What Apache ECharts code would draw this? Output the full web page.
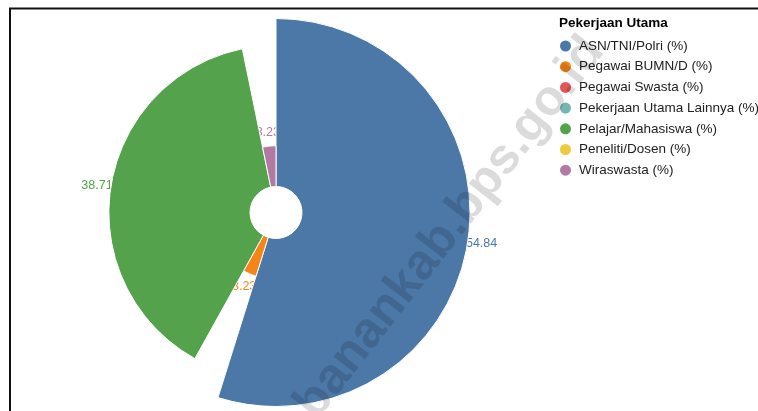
<!DOCTYPE html>
<html>
<head>
<meta charset="utf-8">
<script src="https://cdn.jsdelivr.net/npm/echarts@6/dist/echarts.min.js"></script>
<style>
  html, body { margin: 0; padding: 0; background: #fff; }
  #chart { width: 758px; height: 411px; }
</style>
</head>
<body>
<div id="chart"></div>
<script>
// data
const categories = ["ASN/TNI/Polri (%)", "Pegawai BUMN/D (%)", "Pegawai Swasta (%)", "Pekerjaan Utama Lainnya (%)", "Pelajar/Mahasiswa (%)", "Peneliti/Dosen (%)", "Wiraswasta (%)"];
const values = [54.84, 3.23, 0, 0, 38.71, 0, 3.23];
const colors = ["#4c78a8", "#f58518", "#e45756", "#72b7b2", "#54a24b", "#eeca3b", "#b279a2"];

const chart = echarts.init(document.getElementById("chart"));
const font = "'Liberation Sans', Arial, sans-serif";

const total = values.reduce((a, b) => a + b, 0);
const maxVal = Math.max.apply(null, values);
// radial plot: angle = share, radius = sqrt scale
const cx = 276, cy = 212.5, innerR = 26, outerR = 194;

function makeRender(idx) {
  return function (params, api) {
    let before = 0;
    for (let i = 0; i < idx; i++) before += values[i];
    const v = api.value(1);
    const a0 = before / total * Math.PI * 2 - Math.PI / 2;
    const a1 = (before + v) / total * Math.PI * 2 - Math.PI / 2;
    const r = innerR + (outerR - innerR) * Math.sqrt(v / maxVal);
    const mid = (a0 + a1) / 2;
    const lr = r + 14;
    const children = [{
      type: "text",
      z2: 1,
      style: {
        x: cx + lr * Math.cos(mid),
        y: cy + lr * Math.sin(mid),
        text: String(v),
        fill: colors[idx],
        font: "12.5px " + font,
        align: "center",
        verticalAlign: "middle"
      }
    }];
    if (v > 0) {
      children.push({
        type: "sector",
        z2: 10,
        shape: { cx: cx, cy: cy, r0: innerR, r: r, startAngle: a0, endAngle: a1, clockwise: true },
        style: { fill: colors[idx], stroke: "#fff", lineWidth: 1 }
      });
    }
    return { type: "group", children: children };
  };
}

const series = categories.map(function (name, i) {
  return {
    type: "custom",
    name: name,
    coordinateSystem: "none",
    itemStyle: { color: colors[i] },
    data: [[i, values[i]]],
    renderItem: makeRender(i),
    animation: false
  };
});

const option = {
  backgroundColor: "#fff",
  title: {
    text: "Pekerjaan Utama",
    left: 554,
    top: 11,
    textStyle: { fontSize: 13.5, fontWeight: "bold", color: "#000", fontFamily: font }
  },
  legend: {
    data: categories,
    orient: "vertical",
    left: 555,
    top: 34,
    icon: "circle",
    itemWidth: 11,
    itemHeight: 11,
    itemGap: 6.7,
    itemStyle: { borderWidth: 0 },
    textStyle: { fontSize: 13.5, lineHeight: 14, color: "#222", fontFamily: font, padding: [0, 0, 0, 3] }
  },
  graphic: [
    {
      type: "rect",
      z: 0,
      shape: { x: 10, y: 8.5, width: 1000, height: 1000 },
      style: { fill: null, stroke: "#111", lineWidth: 2 }
    },
    {
      type: "text",
      z: 100,
      x: 450,
      y: 228,
      rotation: 52 * Math.PI / 180,
      style: {
        text: "banankab.bps.go.id",
        font: "bold 50px " + font,
        fill: "rgba(0,0,0,0.14)",
        align: "center",
        verticalAlign: "middle"
      }
    }
  ],
  series: series
};

chart.setOption(option);
window.addEventListener("resize", function () {
  chart.resize();
});
</script>
</body>
</html>
